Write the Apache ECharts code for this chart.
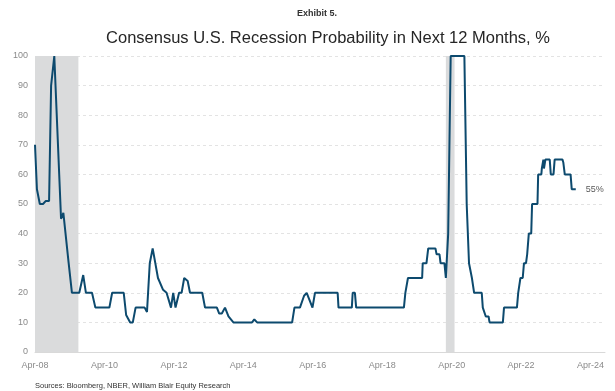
<!DOCTYPE html>
<html><head><meta charset="utf-8">
<script src="https://cdn.jsdelivr.net/npm/echarts@6/dist/echarts.min.js"></script>
<style>html,body{margin:0;padding:0;background:#fff}#c{width:615px;height:391px}</style>
</head><body><div id="c"></div>
<script>
const dates = ['2008-04-01','2008-04-21','2008-05-21','2008-06-24','2008-07-21','2008-08-27','2008-09-18','2008-10-21','2009-01-01','2009-01-25','2009-03-20','2009-04-24','2009-07-10','2009-08-21','2009-09-19','2009-11-22','2009-12-27','2010-05-22','2010-06-21','2010-10-21','2010-11-16','2010-12-28','2011-01-25','2011-02-24','2011-05-28','2011-06-22','2011-07-21','2011-08-21','2011-10-16','2011-12-09','2012-01-15','2012-03-01','2012-03-24','2012-04-18','2012-05-25','2012-06-21','2012-07-18','2012-08-24','2012-09-18','2013-01-25','2013-02-24','2013-06-27','2013-07-21','2013-08-18','2013-09-21','2013-10-27','2013-12-18','2014-07-01','2014-07-25','2014-08-24','2015-08-27','2015-09-21','2015-11-18','2016-01-01','2016-01-28','2016-03-28','2016-04-24','2016-12-19','2016-12-28','2017-05-16','2017-05-25','2017-06-18','2017-07-01','2018-11-16','2018-12-01','2018-12-21','2018-12-28','2019-05-25','2019-06-01','2019-07-10','2019-07-28','2019-10-13','2019-10-25','2019-11-25','2019-12-06','2020-01-16','2020-02-01','2020-02-19','2020-02-25','2020-03-13','2020-03-21','2020-08-13','2020-09-07','2020-10-01','2020-10-21','2020-11-01','2020-11-16','2020-11-24','2021-02-13','2021-02-24','2021-03-13','2021-03-25','2021-04-24','2021-05-04','2021-09-22','2021-10-04','2022-02-18','2022-03-01','2022-03-13','2022-03-24','2022-04-18','2022-05-01','2022-05-22','2022-06-04','2022-06-13','2022-06-21','2022-07-16','2022-07-25','2022-09-21','2022-09-28','2022-11-01','2022-11-06','2022-11-19','2022-11-22','2022-11-28','2022-12-13','2023-01-28','2023-02-09','2023-03-07','2023-03-19','2023-06-10','2023-06-19','2023-07-04','2023-09-04','2023-09-16','2023-10-28'];
const probability = [70,55,50,50,51,51,90,100,45,47,30,20,20,26,20,20,15,15,20,20,12.5,10,10,15,15,13.5,30,35,25,21,20,15,20,15,20,20,25,24,20,20,15,15,13,13,15,12,10,10,11,10,10,15,15,19,20,15,20,20,15,15,20,20,15,15,20,20,25,25,30,30,35,35,33,33,30,30,25,25,40,40,100,100,50,30,30,25,25,20,20,15,15,12,12,10,10,15,15,20,20,25,25,30,30,33,33,40,40,50,50,60,60,62,62,65,62,65,65,60,60,65,65,64,60,60,55,55];
const recessions = [['2008-04-01','2009-07-01'],['2020-02-01','2020-05-01']];
const yTicks = [0,10,20,30,40,50,60,70,80,90,100];
const xTickYears = ['Apr-08','Apr-10','Apr-12','Apr-14','Apr-16','Apr-18','Apr-20','Apr-22','Apr-24'];

function toM(s){const p=s.split('-').map(Number);return (p[0]-2008)*12+(p[1]-4)+(p[2]-1)/30;}
const seriesData = dates.map((d,i)=>[toM(d),probability[i]]);

const chart = echarts.init(document.getElementById('c'));
chart.setOption({
  animation:false,
  title:[
    {text:'Exhibit 5.',left:312,top:4,textAlign:'center',textStyle:{fontFamily:'Liberation Sans',fontSize:9,fontWeight:'bold',color:'#333'}},
    {text:'Consensus U.S. Recession Probability in Next 12 Months, %',left:323,top:25,textAlign:'center',textStyle:{fontFamily:'Liberation Sans',fontSize:16.5,fontWeight:'normal',color:'#262626'}},
    {text:'Sources: Bloomberg, NBER, William Blair Equity Research',left:30,top:377,textStyle:{fontFamily:'Liberation Sans',fontSize:7.5,fontWeight:'normal',color:'#333'}}
  ],
  grid:{left:35,right:10,top:56,bottom:39,containLabel:false},
  xAxis:{type:'value',min:0,max:197,interval:24,
    axisLine:{lineStyle:{color:'#d9d9d9',width:1}},axisTick:{show:false},splitLine:{show:false},
    axisLabel:{color:'#8a8a8a',fontFamily:'Liberation Sans',fontSize:9,margin:9,
      formatter:v=>xTickYears[Math.round(v/24)]||'',showMaxLabel:false}},
  yAxis:{type:'value',min:0,max:100,interval:10,
    axisLine:{show:false},axisTick:{show:false},
    splitLine:{lineStyle:{color:'#e3e3e3',type:[3,3],width:1}},
    axisLabel:{color:'#8a8a8a',fontFamily:'Liberation Sans',fontSize:9,margin:7,
      formatter:v=>yTicks.includes(v)?String(v):''}},
  series:[{type:'line',data:seriesData,showSymbol:false,symbol:'none',
    lineStyle:{color:'#0d4a6e',width:2},
    endLabel:{show:true,formatter:p=>p.value[1]+'%',distance:10,color:'#595959',fontFamily:'Liberation Sans',fontSize:9},
    markArea:{silent:true,itemStyle:{color:'#dadbdc'},
      data:recessions.map(r=>[{xAxis:toM(r[0])},{xAxis:toM(r[1])}])}
  }]
});
</script></body></html>
